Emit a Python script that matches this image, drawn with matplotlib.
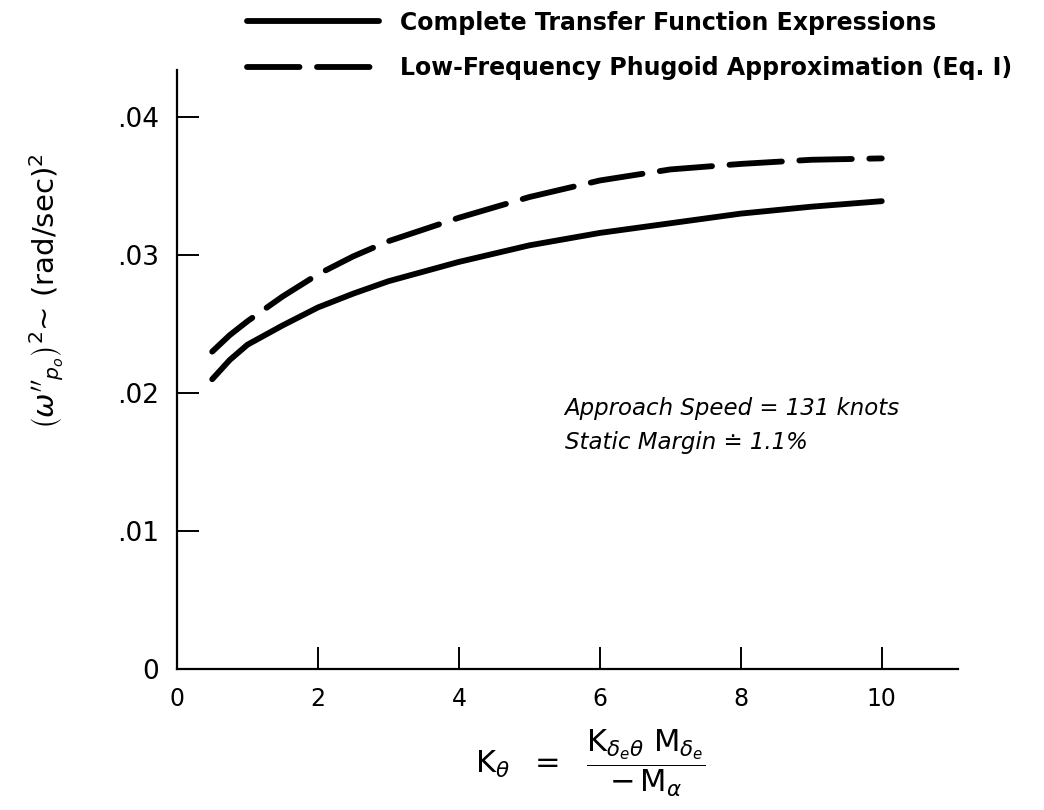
import matplotlib
matplotlib.use("Agg")
import matplotlib.pyplot as plt
from matplotlib.lines import Line2D

# Data
k_theta = [0.5, 0.75, 1, 1.5, 2, 2.5, 3, 4, 5, 6, 7, 8, 9, 10]
complete_tf = [0.0210, 0.0224, 0.0235, 0.0249, 0.0262, 0.0272, 0.0281,
               0.0295, 0.0307, 0.0316, 0.0323, 0.0330, 0.0335, 0.0339]
phugoid_approx = [0.0230, 0.0242, 0.0252, 0.0270, 0.0286, 0.0299, 0.0310,
                  0.0327, 0.0342, 0.0354, 0.0362, 0.0366, 0.0369, 0.0370]

x_ticks = [0, 2, 4, 6, 8, 10]
x_tick_labels = ["0", "2", "4", "6", "8", "10"]
y_ticks = [0, 0.01, 0.02, 0.03, 0.04]
y_tick_labels = ["0", ".01", ".02", ".03", ".04"]

legend_labels = ["Complete Transfer Function Expressions",
                 "Low-Frequency Phugoid Approximation (Eq. I)"]

plt.rcParams["font.family"] = ["DejaVu Sans"]

LW = 4.2
DASH = (9, 3)

fig = plt.figure(figsize=(10.44, 8.1), dpi=100)
ax = fig.add_axes([0.1695, 0.174, 0.748, 0.7395])

ax.plot(k_theta, complete_tf, color="black", lw=LW, solid_capstyle="round",
        solid_joinstyle="round")
ax.plot(k_theta, phugoid_approx, color="black", lw=LW, dashes=DASH,
        dash_capstyle="round", dash_joinstyle="round")

ax.set_xlim(0, 11.08)
ax.set_ylim(0, 0.0434)

for side in ["top", "right"]:
    ax.spines[side].set_visible(False)
for side in ["left", "bottom"]:
    ax.spines[side].set_linewidth(1.6)

ax.set_xticks(x_ticks)
ax.set_xticklabels(x_tick_labels)
ax.set_yticks(y_ticks)
ax.set_yticklabels(y_tick_labels)
ax.tick_params(direction="in", length=16, width=1.4, pad=13)
ax.tick_params(axis="x", labelsize=17)
ax.tick_params(axis="y", labelsize=19)

# legend drawn above the axes
leg_handles = [
    Line2D([0], [0], color="black", lw=LW, solid_capstyle="round"),
    Line2D([0], [0], color="black", lw=LW, dashes=DASH, dash_capstyle="round"),
]
leg = fig.legend(leg_handles, legend_labels, loc="upper left",
                 bbox_to_anchor=(0.216, 1.013), frameon=False, handlelength=5.6,
                 handletextpad=0.9, labelspacing=0.9,
                 prop={"size": 17, "weight": "bold"})

ax.text(5.5, 0.0156, "Approach Speed = 131 knots\nStatic Margin \u2250 1.1%",
        fontsize=16.5, style="italic", ha="left", va="bottom", linespacing=1.6)

fig.text(0.045, 0.64, r"$\left(\omega''_{p_o}\right)^2$" + "~ (rad/sec)$^2$",
         rotation=90, ha="center", va="center", fontsize=21)

fig.text(0.565, 0.057,
         r"$\mathrm{K}_\theta\ \ =\ \ \dfrac{\mathrm{K}_{\delta_e\theta}\ \mathrm{M}_{\delta_e}}{-\,\mathrm{M}_\alpha}$",
         ha="center", va="center", fontsize=22)

fig.savefig("out.png", dpi=100)
